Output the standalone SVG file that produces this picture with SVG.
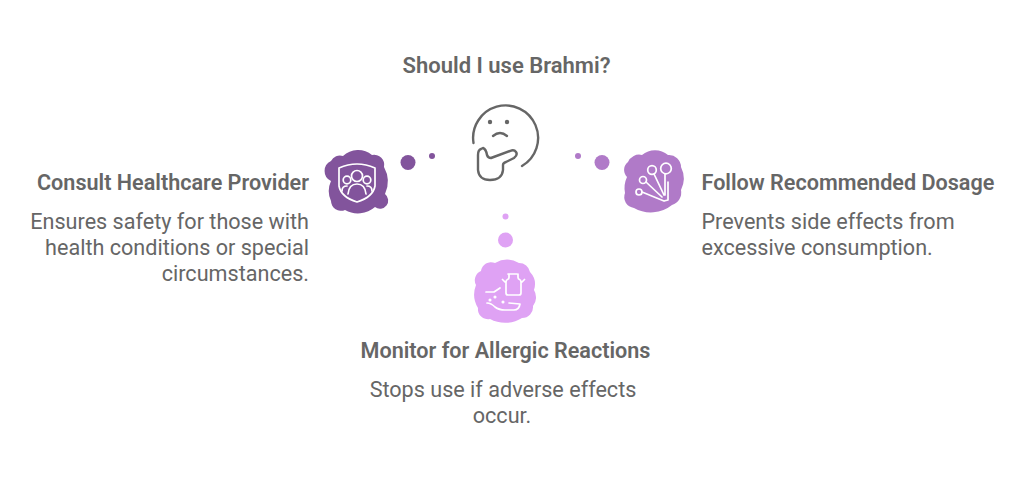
<svg xmlns="http://www.w3.org/2000/svg" width="1024" height="481" viewBox="0 0 1024 481">
<style>
.t{font-family:Roboto,"Liberation Sans",sans-serif;font-size:21.6px;font-weight:600;fill:#666666}
.b{font-family:Roboto,"Liberation Sans",sans-serif;font-size:21.6px;fill:#666666}
.i{fill:none;stroke:#fff;stroke-width:1.7;stroke-linecap:round;stroke-linejoin:round}
.g{fill:none;stroke:#666666;stroke-width:2.4;stroke-linecap:round;stroke-linejoin:round}
</style>
<rect width="1024" height="481" fill="#fff"/>
<g id="question">
<text class="t" x="506.500" y="72.700" text-anchor="middle" style="font-size:22px">Should I use Brahmi?</text>
<path class="g" d="M473.500 143A32.500 32.500 0 1 1 522 166"/>
<circle cx="490" cy="122" r="2.200" fill="#666"/><circle cx="507" cy="122" r="2.200" fill="#666"/>
<path class="g" d="M493 136Q500 130 507 136"/>
<path class="g" d="M481 149Q478 150 478 155L478 170Q479 180 490 180Q502 180 503 170L503 165Q503 163 506 162L514 158Q518 155 516 152Q514 149 510 151L491 158Q488 158 487 155Q486 149 483 148Z"/>
</g>
<g id="connectors">
<circle cx="408" cy="162.500" r="7.500" fill="#82549c"/>
<circle cx="432" cy="156" r="3" fill="#82549c"/>
<circle cx="602" cy="162.500" r="7.500" fill="#b07ac8"/>
<circle cx="578" cy="156" r="3" fill="#b07ac8"/>
<circle cx="505.500" cy="240" r="7.500" fill="#dfa2f4"/>
<circle cx="505.500" cy="216.500" r="3" fill="#dfa2f4"/>
</g>
<g id="consult">
<path fill="#82549c" d="M331 161A10 10 0 0 1 343 156A22 22 0 0 1 372 155A10 10 0 0 1 384 167A30 30 0 0 1 385 194A7 7 0 0 1 375 207A26 26 0 0 1 345 210A10 10 0 0 1 331 201A24 24 0 0 1 331 181A11 11 0 0 1 331 161Z"/>
<path class="i" d="M339 168Q357 160 375 168L375 186Q373 197 357 202Q341 197 339 186Z"/>
<circle class="i" cx="357" cy="176" r="5.500"/><circle class="i" cx="347" cy="180" r="3.800"/><circle class="i" cx="367" cy="180" r="3.800"/>
<path class="i" d="M348 194Q349 184 357 184Q365 184 366 194M342 191Q342 186 347 186M372 191Q372 186 367 186"/>
<text class="t" x="309" y="189.700" text-anchor="end">Consult Healthcare Provider</text>
<text class="b" x="309" y="228.700" text-anchor="end">Ensures safety for those with</text>
<text class="b" x="309" y="254.700" text-anchor="end">health conditions or special</text>
<text class="b" x="309" y="280.700" text-anchor="end">circumstances.</text>
</g>
<g id="dosage">
<path fill="#b07ac8" d="M628 162A12 12 0 0 1 642 155A20 20 0 0 1 668 155A12 12 0 0 1 681 167A26 26 0 0 1 681 190A13 13 0 0 1 672 205A34 34 0 0 1 634 208A11 11 0 0 1 625 193A26 26 0 0 1 627 177A10 10 0 0 1 628 162Z"/>
<g class="i">
<circle cx="666" cy="168.500" r="5.300"/><circle cx="652" cy="170" r="4.300"/><circle cx="643" cy="180" r="3.500"/><circle cx="639" cy="192" r="3"/>
<path d="M665 174V195M668 182V200L664 201M654 174L664 195M646 182L662 197M642 192L664 201"/>
</g>
<text class="t" x="701.500" y="189.700">Follow Recommended Dosage</text>
<text class="b" x="701.500" y="228.700">Prevents side effects from</text>
<text class="b" x="701.500" y="254.700">excessive consumption.</text>
</g>
<g id="monitor">
<path fill="#dfa2f4" d="M481 271A10 10 0 0 1 495 263A24 24 0 0 1 519 263A11 11 0 0 1 530 272A18 18 0 0 1 534 290A14 14 0 0 1 533 306A11 11 0 0 1 522 318A32 32 0 0 1 490 319A10 10 0 0 1 478 308A26 26 0 0 1 476 285A10 10 0 0 1 481 271Z"/>
<g class="i">
<path d="M508 274H517M509 274V277.500Q509 279 507.500 279.500Q506 280 506 282V293Q506 295 508 295H519Q521 295 521 293V282Q521 280 519.500 279.500Q518 279 518 277.500V274M506 283L502.500 279.500M521 283L524.500 279.500"/>
<path d="M486 292H494L500 288M487 303Q491 303 495 307Q499 310 505 310H514Q519 310 520 304L509 303"/>
<circle cx="490" cy="300" r=".7"/><circle cx="495" cy="297" r=".7"/><circle cx="503" cy="302" r=".7"/>
</g>
<text class="t" x="505.500" y="357.700" text-anchor="middle">Monitor for Allergic Reactions</text>
<text class="b" x="503" y="396.700" text-anchor="middle">Stops use if adverse effects</text>
<text class="b" x="502" y="422.700" text-anchor="middle">occur.</text>
</g>
</svg>
